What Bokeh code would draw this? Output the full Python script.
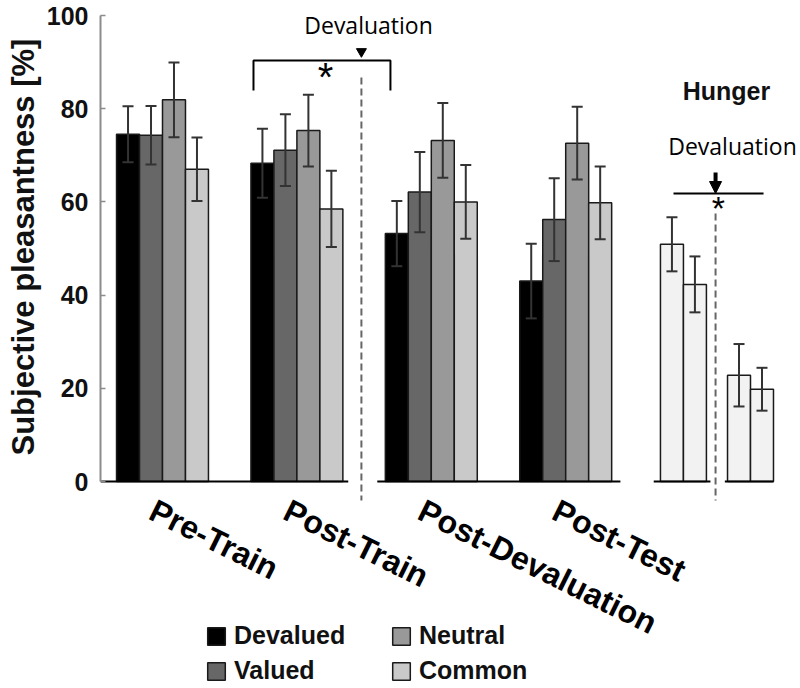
import numpy as np
from bokeh.plotting import figure
from bokeh.models import (ColumnDataSource, Whisker, TeeHead, FixedTicker, Legend,
                          LegendItem, Arrow, NormalHead, Title)
from bokeh.embed import file_html
from bokeh.resources import INLINE
from bokeh.core.properties import value

# ---------------- data ----------------
phases = ["Pre-Train", "Post-Train", "Post-Devaluation", "Post-Test"]
series = ["Devalued", "Valued", "Neutral", "Common"]
devalued = [74.5, 68.3, 53.2, 43.0]
valued = [74.3, 71.1, 62.1, 56.2]
neutral = [81.9, 75.3, 73.2, 72.6]
common = [67.0, 58.5, 60.0, 59.8]
devalued_err = [6.0, 7.4, 7.0, 8.0]
valued_err = [6.3, 7.7, 8.6, 8.9]
neutral_err = [8.0, 7.7, 8.0, 7.8]
common_err = [6.8, 8.2, 7.9, 7.8]

hunger_phase = ["before", "before", "after", "after"]
hunger_vals = [50.9, 42.3, 22.8, 19.8]
hunger_err = [5.8, 6.0, 6.7, 4.6]

y_ticks = [0, 20, 40, 60, 80, 100]
y_label = "Subjective pleasantness [%]"

# ---------------- layout (group units) ----------------
colors = ["#000000", "#676767", "#999999", "#c9c9c9"]
hunger_color = "#f2f2f2"
bw = 0.171
group_x = np.arange(len(phases), dtype=float)
hunger_center = {"before": 3.876, "after": 4.375}
dev_line_1 = 1.48
dev_line_2 = 4.115

p = figure(width=800, height=688, output_backend="svg", toolbar_location=None,
           x_range=(-0.4613, 4.747), y_range=(-44.42, 103.22),
           x_axis_location=None, y_axis_location="left",
           min_border_left=100, min_border_right=0, min_border_top=0, min_border_bottom=0,
           outline_line_color=None)
p.xgrid.visible = False
p.ygrid.visible = False
p.background_fill_color = "white"

vals = [devalued, valued, neutral, common]
errs = [devalued_err, valued_err, neutral_err, common_err]
renderers = []
whisk_x, whisk_lo, whisk_hi = [], [], []
for i, (name, v, e, c) in enumerate(zip(series, vals, errs, colors)):
    xs = group_x + (i - 1.5) * bw
    src = ColumnDataSource(dict(x=xs, top=v, phase=phases))
    r = p.vbar(x="x", top="top", bottom=0, width=bw, source=src, fill_color=c,
               line_color="#1a1a1a", line_width=1.5)
    renderers.append(r)
    whisk_x += list(xs)
    whisk_lo += [a - b for a, b in zip(v, e)]
    whisk_hi += [a + b for a, b in zip(v, e)]

# hunger bars
hx = []
for k, ph in enumerate(hunger_phase):
    j = k % 2
    hx.append(hunger_center[ph] + (j - 0.5) * bw)
hsrc = ColumnDataSource(dict(x=hx, top=hunger_vals))
p.vbar(x="x", top="top", bottom=0, width=bw, source=hsrc, fill_color=hunger_color,
       line_color="#1a1a1a", line_width=1.5)
whisk_x += hx
whisk_lo += [a - b for a, b in zip(hunger_vals, hunger_err)]
whisk_hi += [a + b for a, b in zip(hunger_vals, hunger_err)]

wsrc = ColumnDataSource(dict(x=whisk_x, lower=whisk_lo, upper=whisk_hi))
wc = "#333333"
w = Whisker(source=wsrc, base="x", lower="lower", upper="upper", dimension="height",
            line_color=wc, line_width=2, level="overlay",
            upper_head=TeeHead(size=11, line_color=wc, line_width=2),
            lower_head=TeeHead(size=11, line_color=wc, line_width=2))
p.add_layout(w)

# baseline segments
seg_x0 = [-0.4613, group_x[2] - 2 * bw - 0.06, hx[0] - bw / 2 - 0.05, hx[2] - bw / 2 - 0.02]
seg_x1 = [group_x[1] + 2 * bw + 0.04, group_x[3] + 2 * bw + 0.065, hx[1] + bw / 2 + 0.03, hx[3] + bw / 2]
p.segment(x0=seg_x0, y0=[0] * 4, x1=seg_x1, y1=[0] * 4, line_color="black", line_width=2)

# dashed devaluation lines
p.segment(x0=[dev_line_1, dev_line_2], y0=[86.7, 57.5], x1=[dev_line_1, dev_line_2], y1=[-4.1, -4.1],
          line_color="#666666", line_width=2, line_dash="7 4")

# bracket with asterisk (training phase)
p.line(x=[0.677, 0.677, 1.696, 1.696], y=[83.9, 90.34, 90.34, 83.9], line_color="black", line_width=2)
p.text(x=[1.213], y=[86.9], text=["*"], text_align="center", text_baseline="alphabetic",
       text_font=value("Liberation Sans"), text_font_size="40px", text_color="black")
p.scatter(x=[dev_line_1], y=[92.27], marker="inverted_triangle", size=10, fill_color="black",
          line_color="black")
p.text(x=[1.533], y=[98.03], text=["Devaluation"], text_align="center", text_baseline="alphabetic",
       text_font=value("Open Sans"), text_font_size="23px", text_color="black")

# hunger annotations
p.text(x=[4.196], y=[83.7], text=["Hunger"], text_align="center", text_baseline="alphabetic",
       text_font=value("Liberation Sans"), text_font_style="bold", text_font_size="25px",
       text_color="#111111")
p.text(x=[4.241], y=[71.9], text=["Devaluation"], text_align="center", text_baseline="alphabetic",
       text_font=value("Open Sans"), text_font_size="23px", text_color="black")
p.line(x=[3.802, 4.472], y=[61.8, 61.8], line_color="black", line_width=2)
p.add_layout(Arrow(x_start=dev_line_2, y_start=66.3, x_end=dev_line_2, y_end=61.8,
                   line_width=4, line_color="black",
                   end=NormalHead(size=12, fill_color="black", line_color="black")))
p.text(x=[dev_line_2 + 0.02], y=[58.6], text=["*"], text_align="center", text_baseline="alphabetic",
       text_font=value("Liberation Sans"), text_font_size="34px", text_color="black")

# phase labels (rotated)
p.text(x=group_x - 0.02, y=[-2.32] * 4, text=phases, angle=-0.462, text_align="left",
       text_baseline="top", text_font=value("Liberation Sans"), text_font_style="bold",
       text_font_size="32px", text_color="black")

# y axis
ax = p.yaxis[0]
ax.bounds = (0, 100)
ax.ticker = FixedTicker(ticks=y_ticks)
ax.axis_line_color = "#8c8c8c"
ax.axis_line_width = 2
ax.major_tick_line_color = "#8c8c8c"
ax.major_tick_line_width = 1.5
ax.major_tick_in = 5
ax.major_tick_out = 0
ax.minor_tick_line_color = None
ax.major_label_standoff = 12
ax.major_label_text_font = "Liberation Sans"
ax.major_label_text_font_style = "bold"
ax.major_label_text_font_size = "25px"
ax.major_label_text_color = "#111111"

ytitle = Title(text=y_label, align="left", offset=233, vertical_align="top", standoff=2,
               text_font="Liberation Sans", text_font_style="bold",
               text_font_size="31px", text_color="#111111")
p.add_layout(ytitle, "left")

# legend
legend = Legend(items=[LegendItem(label=s, renderers=[r]) for s, r in zip(series, renderers)],
                location=(105, 3), orientation="vertical", nrows=2,
                glyph_width=22, glyph_height=22, label_standoff=7, label_width=150,
                spacing=6, padding=0, margin=0, border_line_color=None,
                background_fill_alpha=0, label_text_font="Liberation Sans",
                label_text_font_style="bold", label_text_font_size="25px",
                label_text_color="#111111")
p.add_layout(legend)

open("out.html", "w").write(file_html(p, INLINE))
